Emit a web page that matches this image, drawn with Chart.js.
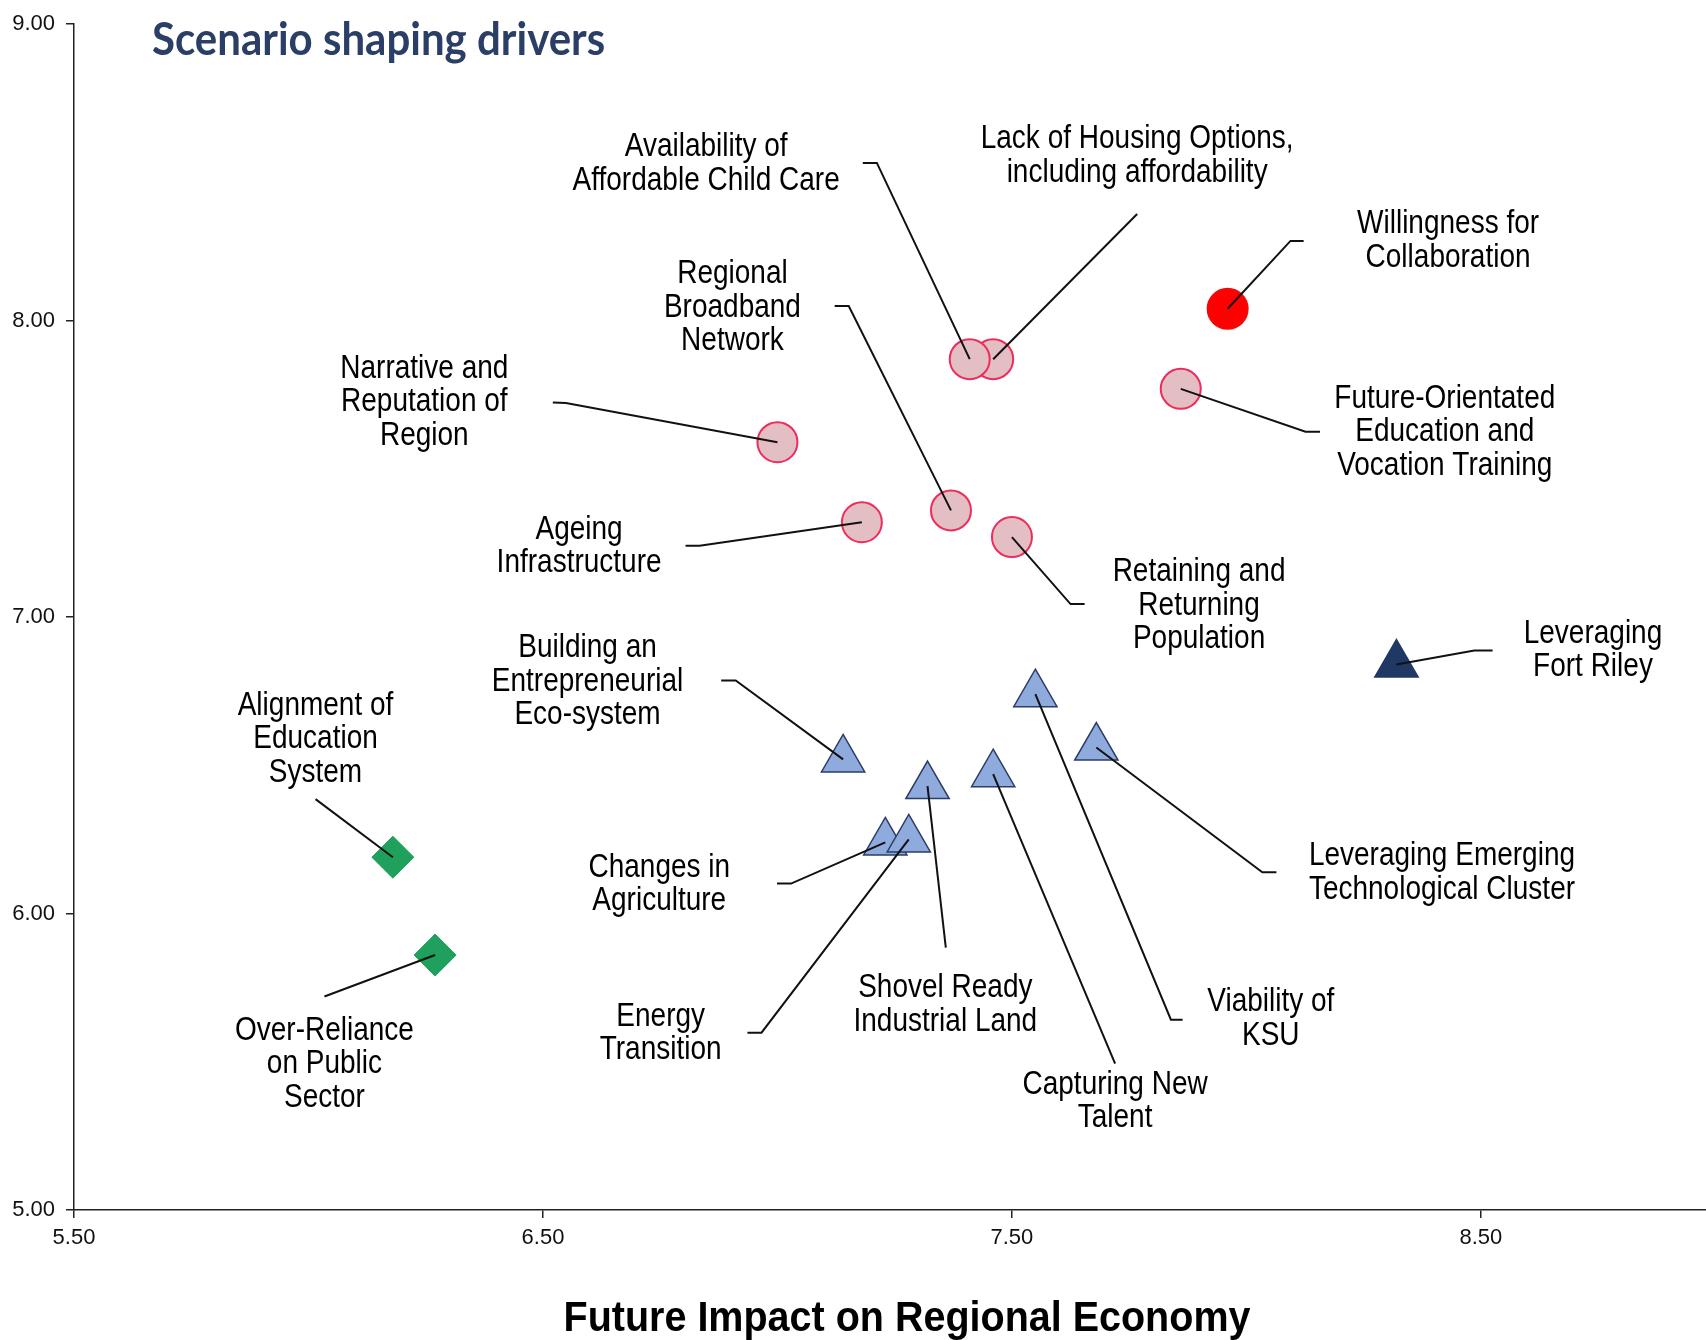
<!DOCTYPE html>
<html>
<head>
<meta charset="utf-8">
<script src="https://cdn.jsdelivr.net/npm/chart.js@4.4.0/dist/chart.umd.min.js"></script>
<style>
  html, body { margin: 0; padding: 0; background: #fff; overflow: hidden; }
  #wrap { width: 1706px; height: 1340px; position: relative; }
</style>
</head>
<body>
<div id="wrap"><canvas id="driversChart"></canvas></div>
<script>
// top-rated driver (red circle)
const topNames = ["Willingness for Collaboration"];
const topX = [7.96];
const topY = [8.04];

// pink circles
const socialNames = [
  "Lack of Housing Options, including affordability",
  "Availability of Affordable Child Care",
  "Future-Orientated Education and Vocation Training",
  "Narrative and Reputation of Region",
  "Ageing Infrastructure",
  "Regional Broadband Network",
  "Retaining and Returning Population"
];
const socialX = [7.46, 7.41, 7.86, 7.00, 7.18, 7.37, 7.50];
const socialY = [7.87, 7.87, 7.77, 7.59, 7.32, 7.36, 7.27];

// light blue triangles
const economicNames = [
  "Building an Entrepreneurial Eco-system",
  "Shovel Ready Industrial Land",
  "Capturing New Talent",
  "Viability of KSU",
  "Leveraging Emerging Technological Cluster",
  "Changes in Agriculture",
  "Energy Transition"
];
const economicX = [7.14, 7.32, 7.46, 7.55, 7.68, 7.23, 7.28];
const economicY = [6.52, 6.43, 6.47, 6.74, 6.56, 6.24, 6.25];

// dark triangle
const fortNames = ["Leveraging Fort Riley"];
const fortX = [8.32];
const fortY = [6.84];

// green diamonds
const publicNames = ["Alignment of Education System", "Over-Reliance on Public Sector"];
const publicX = [6.18, 6.27];
const publicY = [6.19, 5.86];

const xTicks = [5.5, 6.5, 7.5, 8.5];
const yTicks = [5, 6, 7, 8, 9];

// label text, label centre and leader path (data units), leader starts at the point
const callouts = {
  "Availability of Affordable Child Care": { lines: ["Availability of", "Affordable Child Care"], at: [6.848, 8.528], path: [[7.212, 8.532], [7.182, 8.532]] },
  "Lack of Housing Options, including affordability": { lines: ["Lack of Housing Options,", "including affordability"], at: [7.767, 8.555], path: [[7.767, 8.360]] },
  "Willingness for Collaboration": { lines: ["Willingness for", "Collaboration"], at: [8.430, 8.269], path: [[8.094, 8.269], [8.122, 8.269]] },
  "Regional Broadband Network": { lines: ["Regional", "Broadband", "Network"], at: [6.904, 8.044], path: [[7.152, 8.049], [7.122, 8.049]] },
  "Narrative and Reputation of Region": { lines: ["Narrative and", "Reputation of", "Region"], at: [6.247, 7.724], path: [[6.549, 7.722], [6.521, 7.724]] },
  "Future-Orientated Education and Vocation Training": { lines: ["Future-Orientated", "Education and", "Vocation Training"], at: [8.423, 7.623], path: [[8.126, 7.625], [8.157, 7.625]] },
  "Ageing Infrastructure": { lines: ["Ageing", "Infrastructure"], at: [6.577, 7.238], path: [[6.834, 7.241], [6.804, 7.241]] },
  "Retaining and Returning Population": { lines: ["Retaining and", "Returning", "Population"], at: [7.899, 7.038], path: [[7.625, 7.044], [7.655, 7.044]] },
  "Leveraging Fort Riley": { lines: ["Leveraging", "Fort Riley"], at: [8.739, 6.887], path: [[8.486, 6.887], [8.525, 6.887]] },
  "Building an Entrepreneurial Eco-system": { lines: ["Building an", "Entrepreneurial", "Eco-system"], at: [6.595, 6.782], path: [[6.911, 6.786], [6.880, 6.786]] },
  "Alignment of Education System": { lines: ["Alignment of", "Education", "System"], at: [6.015, 6.587], path: [[6.015, 6.386]] },
  "Changes in Agriculture": { lines: ["Changes in", "Agriculture"], at: [6.748, 6.097], path: [[7.029, 6.101], [6.999, 6.101]] },
  "Leveraging Emerging Technological Cluster": { lines: ["Leveraging Emerging", "Technological Cluster"], at: [8.417, 6.137], path: [[8.034, 6.139], [8.064, 6.139]] },
  "Over-Reliance on Public Sector": { lines: ["Over-Reliance", "on Public", "Sector"], at: [6.034, 5.492], path: [[6.034, 5.720]] },
  "Energy Transition": { lines: ["Energy", "Transition"], at: [6.751, 5.596], path: [[6.966, 5.598], [6.936, 5.598]] },
  "Shovel Ready Industrial Land": { lines: ["Shovel Ready", "Industrial Land"], at: [7.358, 5.691], path: [[7.359, 5.885]] },
  "Viability of KSU": { lines: ["Viability of", "KSU"], at: [8.052, 5.644], path: [[7.839, 5.642], [7.864, 5.642]] },
  "Capturing New Talent": { lines: ["Capturing New", "Talent"], at: [7.720, 5.366], path: [[7.720, 5.494]] }
};

function points(names, xs, ys) {
  return names.map((n, i) => ({ x: xs[i], y: ys[i], name: n }));
}

const LABEL_FONT = '28px "Liberation Sans", Arial, sans-serif';
const LINE_H = 33.5;
const STRETCH = 1.16;

function stretchedText(ctx, text, x, y, sy) {
  ctx.save();
  ctx.translate(x, y);
  ctx.scale(1, sy);
  ctx.fillText(text, 0, 0);
  ctx.restore();
}

const calloutPlugin = {
  id: 'callouts',
  afterDatasetsDraw(chart) {
    const { ctx, scales: { x, y } } = chart;
    ctx.save();
    ctx.strokeStyle = '#111';
    ctx.lineWidth = 2;
    ctx.fillStyle = '#000';
    ctx.font = LABEL_FONT;
    ctx.textAlign = 'center';
    ctx.textBaseline = 'middle';
    chart.data.datasets.forEach(ds => {
      ds.data.forEach(pt => {
        const c = callouts[pt.name];
        if (!c) return;
        ctx.beginPath();
        ctx.moveTo(x.getPixelForValue(pt.x), y.getPixelForValue(pt.y));
        c.path.forEach(p => ctx.lineTo(x.getPixelForValue(p[0]), y.getPixelForValue(p[1])));
        ctx.stroke();
        const cx = x.getPixelForValue(c.at[0]);
        const cy = y.getPixelForValue(c.at[1]);
        const n = c.lines.length;
        c.lines.forEach((t, i) => {
          stretchedText(ctx, t, cx, cy + (i - (n - 1) / 2) * LINE_H, STRETCH);
        });
      });
    });
    ctx.restore();
  },
  afterDraw(chart) {
    const { ctx, chartArea } = chart;
    ctx.save();
    ctx.fillStyle = '#2B3F66';
    ctx.font = 'bold 42px Lato, "Open Sans", sans-serif';
    ctx.textAlign = 'left';
    ctx.textBaseline = 'middle';
    stretchedText(ctx, 'Scenario shaping drivers', chartArea.left + 78, chartArea.top + 16, 1.1);

    ctx.fillStyle = '#000';
    ctx.font = 'bold 39.5px "Liberation Sans", Arial, sans-serif';
    ctx.textAlign = 'center';
    stretchedText(ctx, 'Future Impact on Regional Economy', (chartArea.left + chartArea.right) / 2 + 17, chartArea.bottom + 109, 1.08);
    ctx.restore();
  }
};

const tickFont = { family: '"Liberation Sans", Arial, sans-serif', size: 22 };

new Chart(document.getElementById('driversChart'), {
  type: 'scatter',
  data: {
    datasets: [
      {
        label: 'Top driver',
        data: points(topNames, topX, topY),
        pointStyle: 'circle',
        pointRadius: 20,
        backgroundColor: '#FF0000',
        borderColor: '#F20A0A',
        borderWidth: 2
      },
      {
        label: 'Social',
        data: points(socialNames, socialX, socialY),
        pointStyle: 'circle',
        pointRadius: 20,
        backgroundColor: '#E3BEC3',
        borderColor: '#EE2B5B',
        borderWidth: 2
      },
      {
        label: 'Economic',
        data: points(economicNames, economicX, economicY),
        pointStyle: 'triangle',
        pointRadius: 25,
        backgroundColor: '#8FAADC',
        borderColor: '#2D3C66',
        borderWidth: 1.5
      },
      {
        label: 'Fort Riley',
        data: points(fortNames, fortX, fortY),
        pointStyle: 'triangle',
        pointRadius: 25,
        backgroundColor: '#1F3864',
        borderColor: '#1F3864',
        borderWidth: 1.5
      },
      {
        label: 'Public',
        data: points(publicNames, publicX, publicY),
        pointStyle: 'rectRot',
        pointRadius: 21,
        backgroundColor: '#1FA05C',
        borderColor: '#1FA05C',
        borderWidth: 1
      }
    ]
  },
  options: {
    responsive: true,
    maintainAspectRatio: false,
    animation: false,
    layout: { autoPadding: false, padding: { top: 20, left: 0, right: 0, bottom: 0 } },
    plugins: {
      legend: { display: false },
      tooltip: { enabled: false },
      title: { display: false }
    },
    elements: { point: { hoverRadius: 20 } },
    scales: {
      x: {
        type: 'linear',
        min: 5.5,
        max: 8.98,
        afterBuildTicks: axis => { axis.ticks = xTicks.map(v => ({ value: v })); },
        afterFit: axis => { axis.height = 130; },
        ticks: {
          font: tickFont,
          color: '#111',
          padding: 7,
          callback: v => Number(v).toFixed(2)
        },
        grid: { display: true, drawOnChartArea: false, drawTicks: true, tickLength: 8, color: '#222', lineWidth: 1.5 },
        border: { display: true, color: '#222', width: 1.5 }
      },
      y: {
        type: 'linear',
        min: 5,
        max: 9,
        afterBuildTicks: axis => { axis.ticks = yTicks.map(v => ({ value: v })); },
        afterFit: axis => { axis.width = 74; },
        ticks: {
          font: tickFont,
          color: '#111',
          padding: 11,
          crossAlign: 'near',
          callback: v => Number(v).toFixed(2)
        },
        grid: { display: true, drawOnChartArea: false, drawTicks: true, tickLength: 8, color: '#222', lineWidth: 1.5 },
        border: { display: true, color: '#222', width: 1.5 }
      }
    }
  },
  plugins: [calloutPlugin]
});
</script>
</body>
</html>
